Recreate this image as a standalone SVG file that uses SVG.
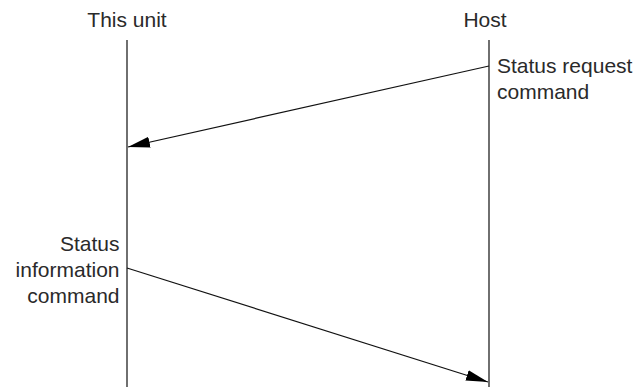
<svg xmlns="http://www.w3.org/2000/svg" width="638" height="387" viewBox="0 0 638 387">
<style>
text{font-family:"Liberation Sans",Arial,sans-serif;font-size:21px;fill:#2a2a2a}
.life{stroke:#333;stroke-width:1.4;fill:none}
.msg{stroke:#111;stroke-width:1.2;fill:none}
</style>
<defs>
<marker id="ah" markerWidth="22" markerHeight="11" refX="22" refY="5.5" orient="auto" markerUnits="userSpaceOnUse">
<path d="M0,0 L22,5.5 L0,11 Z" fill="#000"/>
</marker>
</defs>
<rect width="638" height="387" fill="#fff"/>
<g id="this-unit">
<text x="127" y="27" text-anchor="middle">This unit</text>
<line class="life" x1="127" y1="40" x2="127" y2="387"/>
</g>
<g id="host">
<text x="485" y="27" text-anchor="middle">Host</text>
<line class="life" x1="489" y1="40" x2="489" y2="387"/>
</g>
<g id="labels">
<text x="497" y="73">Status request</text>
<text x="497" y="99">command</text>
<text x="119.5" y="251" text-anchor="end">Status</text>
<text x="119.5" y="277" text-anchor="end">information</text>
<text x="119.5" y="303" text-anchor="end">command</text>
</g>
<g id="connectors">
<line class="msg" x1="489" y1="66" x2="128" y2="147" marker-end="url(#ah)"/>
<line class="msg" x1="127" y1="268" x2="488" y2="382" marker-end="url(#ah)"/>
</g>
</svg>
